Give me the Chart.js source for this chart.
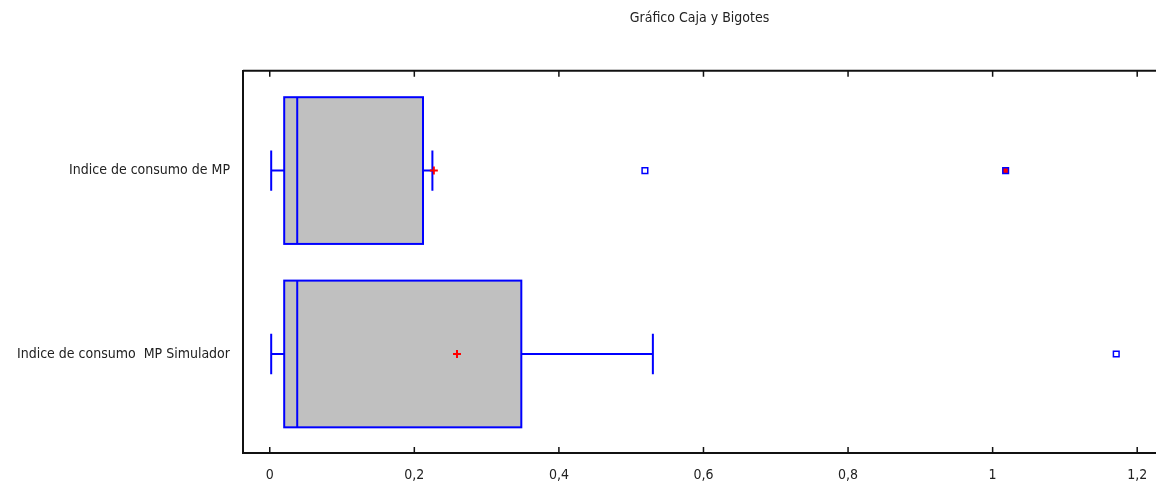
<!DOCTYPE html>
<html>
<head>
<meta charset="utf-8">
<script src="https://cdn.jsdelivr.net/npm/chart.js@4/dist/chart.umd.min.js"></script>
<style>
  html, body { margin: 0; padding: 0; background: #fff; }
  #chart { display: block; }
</style>
</head>
<body>
<canvas id="chart" width="1156" height="486"></canvas>
<script>
// datos (Statgraphics)
const categories = ['Indice de consumo de MP', 'Indice de consumo  MP Simulador'];
const whiskerLow = [0.002, 0.002];
const q1 = [0.020, 0.020];
const medians = [0.038, 0.038];
const q3 = [0.212, 0.348];
const whiskerHigh = [0.225, 0.530];
const means = [0.227, 0.259];
const outsidePoints = [[0.519], [1.171]];
const farOutsidePoints = [[1.018], []];
const xTicks = [0, 0.2, 0.4, 0.6, 0.8, 1, 1.2];
const xTickLabels = ['0', '0,2', '0,4', '0,6', '0,8', '1', '1,2'];

// elegir una fuente estrecha si existe
function hasFont(name) {
    const c = document.createElement('canvas').getContext('2d');
    const txt = 'Indice de consumo mmmwwwMP';
    c.font = '20px monospace';
    const a = c.measureText(txt).width;
    c.font = '20px "' + name + '", monospace';
    return c.measureText(txt).width !== a;
}
let family = 'Liberation Sans';
let sizes = { title: 14, label: 14, tick: 13 };
const narrow = ['Liberation Sans Narrow', 'Arial Narrow', 'DejaVu Sans Condensed'].find(hasFont);
if (narrow) {
    family = narrow;
    sizes = narrow === 'DejaVu Sans Condensed'
        ? { title: 14, label: 14, tick: 14 }
        : { title: 16, label: 17, tick: 16 };
}

const boxHalf = 0.4;
const capHalf = 0.11;

const boxPlotPlugin = {
    id: 'boxPlot',
    beforeDatasetsDraw(chart) {
        const ctx = chart.ctx;
        const xs = chart.scales.x;
        const ys = chart.scales.y;
        const area = chart.chartArea;

        ctx.save();
        // linea superior del marco
        ctx.strokeStyle = '#111';
        ctx.lineWidth = 2;
        ctx.beginPath();
        ctx.moveTo(area.left, area.top);
        ctx.lineTo(area.right, area.top);
        ctx.stroke();
        // marcas de los ticks hacia dentro
        ctx.lineWidth = 1.5;
        xTicks.forEach((v) => {
            const px = xs.getPixelForValue(v);
            ctx.beginPath();
            ctx.moveTo(px, area.bottom);
            ctx.lineTo(px, area.bottom - 6);
            ctx.moveTo(px, area.top);
            ctx.lineTo(px, area.top + 6);
            ctx.stroke();
        });

        categories.forEach((cat, i) => {
            const yc = ys.getPixelForValue(i + 1);
            const yTop = ys.getPixelForValue(i + 1 - boxHalf);
            const yBot = ys.getPixelForValue(i + 1 + boxHalf);
            const cTop = ys.getPixelForValue(i + 1 - capHalf);
            const cBot = ys.getPixelForValue(i + 1 + capHalf);
            const xLo = xs.getPixelForValue(whiskerLow[i]);
            const xQ1 = xs.getPixelForValue(q1[i]);
            const xMed = xs.getPixelForValue(medians[i]);
            const xQ3 = xs.getPixelForValue(q3[i]);
            const xHi = xs.getPixelForValue(whiskerHigh[i]);

            ctx.strokeStyle = '#0000ff';
            ctx.lineWidth = 2;
            // bigotes
            ctx.beginPath();
            ctx.moveTo(xLo, yc);
            ctx.lineTo(xQ1, yc);
            ctx.moveTo(xQ3, yc);
            ctx.lineTo(xHi, yc);
            ctx.moveTo(xLo, cTop);
            ctx.lineTo(xLo, cBot);
            ctx.moveTo(xHi, cTop);
            ctx.lineTo(xHi, cBot);
            ctx.stroke();
            // caja
            ctx.fillStyle = '#c0c0c0';
            ctx.fillRect(xQ1, yTop, xQ3 - xQ1, yBot - yTop);
            ctx.strokeRect(xQ1, yTop, xQ3 - xQ1, yBot - yTop);
            // mediana
            ctx.beginPath();
            ctx.moveTo(xMed, yTop);
            ctx.lineTo(xMed, yBot);
            ctx.stroke();
        });
        ctx.restore();
    }
};

const outsideData = [];
const farData = [];
outsidePoints.forEach((arr, i) => arr.forEach((v) => outsideData.push({ x: v, y: i + 1 })));
farOutsidePoints.forEach((arr, i) => arr.forEach((v) => farData.push({ x: v, y: i + 1 })));
const meanData = means.map((v, i) => ({ x: v, y: i + 1 }));

new Chart(document.getElementById('chart'), {
    type: 'scatter',
    data: {
        datasets: [
            {
                label: 'Media',
                data: meanData,
                pointStyle: 'cross',
                radius: 4,
                borderColor: '#ff0000',
                borderWidth: 2
            },
            {
                label: 'Puntos fuera',
                data: outsideData,
                pointStyle: 'rect',
                radius: 4,
                backgroundColor: '#ffffff',
                borderColor: '#0000ff',
                borderWidth: 1.5
            },
            {
                label: 'Puntos muy fuera',
                data: farData,
                pointStyle: 'rect',
                radius: 4,
                backgroundColor: '#ff0000',
                borderColor: '#0000ff',
                borderWidth: 1.5
            }
        ]
    },
    options: {
        responsive: false,
        devicePixelRatio: 1,
        animation: false,
        events: [],
        layout: { padding: 0, autoPadding: false },
        plugins: {
            legend: { display: false },
            tooltip: { enabled: false },
            title: {
                display: true,
                text: 'Gráfico Caja y Bigotes',
                fullSize: false,
                color: '#222',
                font: { family: family, size: sizes.title, weight: 'normal' },
                padding: { top: 10, bottom: 44 }
            }
        },
        scales: {
            x: {
                type: 'linear',
                min: -0.037,
                max: 1.226,
                afterBuildTicks: (scale) => {
                    scale.ticks = xTicks.map((v) => ({ value: v }));
                },
                afterFit: (scale) => {
                    scale.height = 33;
                    scale.paddingLeft = 0;
                    scale.paddingRight = 0;
                },
                grid: { display: false },
                border: { display: true, color: '#111', width: 2 },
                ticks: {
                    padding: 6,
                    color: '#222',
                    maxRotation: 0,
                    font: { family: family, size: sizes.tick },
                    callback: (v, idx) => xTickLabels[idx]
                }
            },
            y: {
                type: 'linear',
                reverse: true,
                min: 0.456,
                max: 2.540,
                afterBuildTicks: (scale) => {
                    scale.ticks = categories.map((c, i) => ({ value: i + 1 }));
                },
                afterFit: (scale) => { scale.width = 243; },
                grid: { display: false },
                border: { display: true, color: '#111', width: 2 },
                ticks: {
                    padding: 5,
                    color: '#222',
                    font: { family: family, size: sizes.label },
                    callback: (v, idx) => categories[idx]
                }
            }
        }
    },
    plugins: [boxPlotPlugin]
});
</script>
</body>
</html>
